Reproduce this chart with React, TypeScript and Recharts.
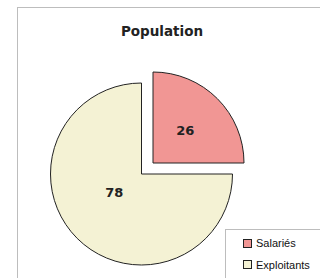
import { Cell, Pie, PieChart } from "recharts"

const categories = ["Salariés", "Exploitants"]
const values = [26, 78]
const colors = ["#F19694", "#F4F2D4"]

const data = categories.map((name, i) => ({ name, value: values[i] }))

const RADIAN = Math.PI / 180
// nudges for label angle, per slice (degrees)
const labelAngleShift = [0, -11]
const labelRadius = [0.5, 0.36]

const renderLabel = (show: number) => (props: any) => {
  const { cx, cy, midAngle, outerRadius, index, value } = props
  if (index !== show) return null
  const a = (midAngle + labelAngleShift[index]) * RADIAN
  const r = outerRadius * labelRadius[index]
  const x = cx + r * Math.cos(a)
  const y = cy - r * Math.sin(a)
  return (
    <text
      x={x}
      y={y}
      textAnchor="middle"
      dominantBaseline="central"
      fill="#222"
      fontSize={13}
      fontWeight="bold"
      fontFamily="'DejaVu Sans', sans-serif"
    >
      {value}
    </text>
  )
}

export default function App() {
  return (
    <div
      style={{
        position: "absolute",
        left: 0,
        top: 0,
        width: 320,
        height: 278,
        background: "#fff",
        overflow: "hidden"
      }}
    >
      <div
        style={{
          position: "absolute",
          left: 17,
          top: 7,
          width: 320,
          height: 290,
          borderLeft: "1px solid #bdbdbd",
          borderTop: "1px solid #bdbdbd"
        }}
      />
      <div
        style={{
          position: "absolute",
          left: 0,
          top: 23,
          width: 324,
          textAlign: "center",
          fontFamily: "'DejaVu Sans', sans-serif",
          fontWeight: "bold",
          fontSize: 13.5,
          color: "#222"
        }}
      >
        Population
      </div>
      <div style={{ position: "absolute", left: 0, top: 0 }}>
        <PieChart width={320} height={278} margin={{ top: 0, right: 0, bottom: 0, left: 0 }}>
          <Pie
            data={data}
            dataKey="value"
            nameKey="name"
            cx={141.5}
            cy={174}
            outerRadius={91}
            startAngle={90}
            endAngle={-270}
            stroke="#222"
            strokeWidth={1}
            label={renderLabel(1)}
            labelLine={false}
            isAnimationActive={false}
          >
            {data.map((d, i) => (
              <Cell
                key={d.name}
                fill={i === 1 ? colors[i] : "none"}
                stroke={i === 1 ? "#222" : "none"}
              />
            ))}
          </Pie>
          <Pie
            data={data}
            dataKey="value"
            nameKey="name"
            cx={153}
            cy={163}
            outerRadius={91}
            startAngle={90}
            endAngle={-270}
            stroke="#222"
            strokeWidth={1}
            label={renderLabel(0)}
            labelLine={false}
            legendType="none"
            isAnimationActive={false}
          >
            {data.map((d, i) => (
              <Cell
                key={d.name}
                fill={i === 0 ? colors[i] : "none"}
                stroke={i === 0 ? "#222" : "none"}
              />
            ))}
          </Pie>
        </PieChart>
      </div>
      <div
        style={{
          position: "absolute",
          left: 225,
          top: 229,
          width: 110,
          height: 60,
          border: "1px solid #bdbdbd",
          background: "#fff",
          fontFamily: "'Liberation Sans', Arial, sans-serif",
          fontSize: 11,
          color: "#111"
        }}
      >
        {categories.map((c, i) => (
          <div
            key={c}
            style={{
              position: "absolute",
              left: 17,
              top: 7 + i * 21.5,
              display: "flex",
              alignItems: "center",
              whiteSpace: "nowrap"
            }}
          >
            <span
              style={{
                display: "inline-block",
                width: 7,
                height: 7,
                background: colors[i],
                border: "1px solid #222",
                marginRight: 4
              }}
            />
            {c}
          </div>
        ))}
      </div>
    </div>
  )
}
